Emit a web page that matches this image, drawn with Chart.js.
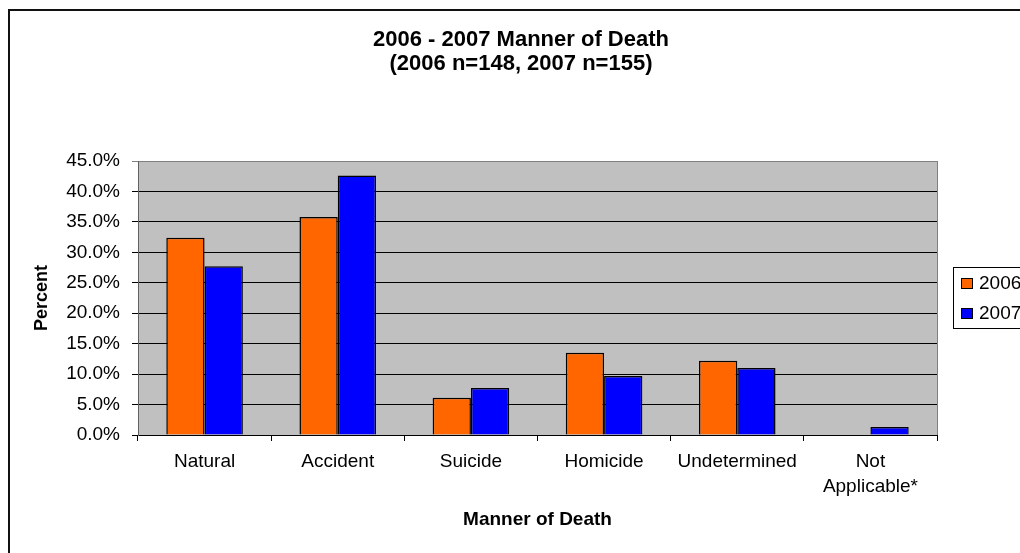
<!DOCTYPE html>
<html>
<head>
<meta charset="utf-8">
<script src="https://cdn.jsdelivr.net/npm/chart.js@4/dist/chart.umd.min.js"></script>
<style>
  html, body { margin: 0; padding: 0; background: #fff; }
  #wrap { width: 1020px; height: 553px; }
</style>
</head>
<body>
<div id="wrap"><canvas id="myChart" width="1020" height="553"></canvas></div>
<script>
// data
let categories = ["Natural", "Accident", "Suicide", "Homicide", "Undetermined", ["Not", "Applicable*"]];
let seriesNames = ["2006", "2007"];
let values2006 = [32.4, 35.8, 6.1, 13.5, 12.2, 0];
let values2007 = [27.7, 42.6, 7.7, 9.7, 11.0, 1.3];
let yTicks = [0, 5, 10, 15, 20, 25, 30, 35, 40, 45];

let titleLines = ["2006 - 2007 Manner of Death", "(2006 n=148, 2007 n=155)"];
let colors = ["#FF6600", "#0000FF"];
let fontFamily = "'Liberation Sans', Arial, sans-serif";

// plugin for the frame, plot background, title and boxed legend
const excelLook = {
  id: "excelLook",
  beforeDraw(chart) {
    let { ctx, chartArea } = chart;
    ctx.save();
    ctx.fillStyle = "#fff";
    ctx.fillRect(0, 0, chart.width, chart.height);
    ctx.fillStyle = "#C0C0C0";
    ctx.fillRect(chartArea.left, chartArea.top, chartArea.right - chartArea.left, chartArea.bottom - chartArea.top);
    ctx.restore();
  },
  afterDraw(chart) {
    let { ctx, chartArea } = chart;
    ctx.save();
    // plot right border
    ctx.strokeStyle = "#808080";
    ctx.lineWidth = 1;
    ctx.beginPath();
    ctx.moveTo(chartArea.right + 0.5, chartArea.top);
    ctx.lineTo(chartArea.right + 0.5, chartArea.bottom);
    ctx.stroke();

    // outer frame
    ctx.strokeStyle = "#111";
    ctx.lineWidth = 2;
    ctx.strokeRect(9, 10, 1100, 700);

    // title
    ctx.fillStyle = "#000";
    ctx.font = "bold 22px " + fontFamily;
    ctx.textAlign = "center";
    ctx.textBaseline = "middle";
    ctx.fillText(titleLines[0], 521, 40);
    ctx.fillText(titleLines[1], 521, 64);

    // legend
    ctx.strokeStyle = "#000";
    ctx.lineWidth = 1;
    ctx.strokeRect(953.5, 267.5, 120, 61);
    ctx.font = "19px " + fontFamily;
    ctx.textAlign = "left";
    chart.data.datasets.forEach((ds, i) => {
      let y = 284 + i * 30;
      ctx.fillStyle = ds.backgroundColor;
      ctx.fillRect(961.5, y - 5.5, 11, 10);
      ctx.strokeRect(961.5, y - 5.5, 11, 10);
      ctx.fillStyle = "#000";
      ctx.fillText(ds.label, 979, y);
    });
    ctx.restore();
  },
};

function renderChart() {
  const ctx = document.getElementById("myChart").getContext("2d");
  const myChart = new Chart(ctx, {
    type: "bar",
    data: {
      labels: categories,
      datasets: [
        {
          label: seriesNames[0],
          data: values2006,
          backgroundColor: colors[0],
          borderColor: "#000",
          borderWidth: 1.5,
        },
        {
          label: seriesNames[1],
          data: values2007,
          backgroundColor: colors[1],
          borderColor: "#000",
          borderWidth: 1.5,
        },
      ],
    },
    options: {
      responsive: false,
      animation: false,
      layout: { padding: { top: 161, right: 83, left: 0, bottom: 0 } },
      plugins: {
        legend: { display: false },
        title: { display: false },
        tooltip: { enabled: false },
      },
      datasets: {
        bar: { categoryPercentage: 0.575, barPercentage: 1 },
      },
      scales: {
        x: {
          afterFit: (s) => { s.height = 118; },
          grid: {
            offset: true,
            drawOnChartArea: false,
            drawTicks: true,
            tickLength: 6,
            color: "#000",
          },
          border: { color: "#000" },
          ticks: {
            color: "#000",
            padding: 8,
            maxRotation: 0,
            autoSkip: false,
            font: { family: fontFamily, size: 19, lineHeight: 1.316 },
          },
          title: {
            display: true,
            text: "Manner of Death",
            color: "#000",
            font: { family: fontFamily, size: 19, weight: "bold" },
            padding: { top: 0, bottom: 22 },
          },
        },
        y: {
          min: 0,
          max: 45,
          afterFit: (s) => { s.width = 138; },
          afterBuildTicks: (s) => { s.ticks = yTicks.map((v) => ({ value: v })); },
          grid: {
            color: (c) => (c.tick && c.tick.value === 45 ? "#808080" : "#000"),
            tickLength: 6,
          },
          border: { color: "#606060" },
          ticks: {
            color: "#000",
            padding: 12,
            font: { family: fontFamily, size: 19 },
            callback: (v) => v.toFixed(1) + "%",
          },
          title: {
            display: true,
            text: "Percent",
            color: "#000",
            font: { family: fontFamily, size: 18, weight: "bold" },
            padding: { top: 31, bottom: 0 },
          },
        },
      },
    },
    plugins: [excelLook],
  });
}

renderChart();
</script>
</body>
</html>
